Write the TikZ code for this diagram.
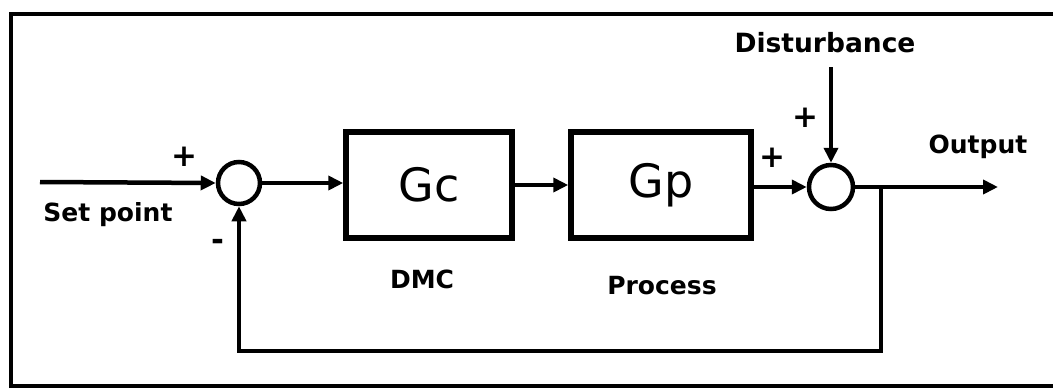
\documentclass[tikz,border=0pt]{standalone}
\usepackage{fontspec}
\setmainfont{DejaVu Sans}
\usetikzlibrary{arrows.meta}
\begin{document}
\begin{tikzpicture}[x=1pt,y=-1pt,
  line width=4.5pt,
  arr/.style={-{Triangle[length=15pt,width=14pt]}},
  blk/.style={draw,line width=5.5pt,minimum width=#1,minimum height=106pt,inner sep=0pt},
  sumc/.style={draw,circle,line width=4.5pt,minimum size=42pt,inner sep=0pt},
  lbl/.style={font=\fontsize{25}{28}\bfseries\selectfont,inner sep=0pt},
  sgn/.style={font=\fontsize{31}{32}\bfseries\selectfont,inner sep=0pt},
  gtxt/.style={font=\fontsize{46}{50}\selectfont}]
\useasboundingbox (0,0) rectangle (1053,391);
\fill[white] (0,0) rectangle (1053,391);
% frame
\draw[line width=4.5pt] (11,388) -- (11,14) -- (1053,14);
\draw[line width=3.5pt] (11,386) -- (1053,386);
% nodes
\node[sumc] (s1) at (239,183) {};
\node[blk=166pt,label={[gtxt]center:Gc}] (gc) at (429,185) {};
\node[blk=180pt,label={[gtxt]center:Gp}] (gp) at (661,185) {};
\node[sumc,minimum size=44pt] (s2) at (831,187) {};
\coordinate (sp) at (40,182);
\coordinate (dist) at (831,67);
\coordinate (out) at (998,187);
\coordinate (br) at (881,187);
\coordinate (fb) at (881,351);
% labels
\node[lbl] (tsp) at (108,215) {Set point};
\node[lbl] (tdmc) at (422,279) {DMC};
\node[lbl] (tproc) at (662,286) {Process};
\node[lbl,font=\fontsize{26.5}{28}\bfseries\selectfont] (tdist) at (825,43) {Disturbance};
\node[lbl] (tout) at (978,147) {Output};
\node[sgn] (p1) at (184,157) {+};
\node[sgn] (m1) at (218,245) {-};
\node[sgn] (p2) at (772,158) {+};
\node[sgn] (p3) at (805,118) {+};
% connectors
\draw[arr] (sp) -- (s1.west);
\draw[arr] (s1.east) -- (gc.west |- s1.east);
\draw[arr] (gc.east) -- (gp.west);
\draw[arr] (gp.east |- s2.west) -- (s2.west);
\draw[arr] (dist) -- (s2.north);
\draw[arr] (s2.east) -- (out);
\draw[arr] (br) -- (fb) -| (s1.south);
\end{tikzpicture}
\end{document}
